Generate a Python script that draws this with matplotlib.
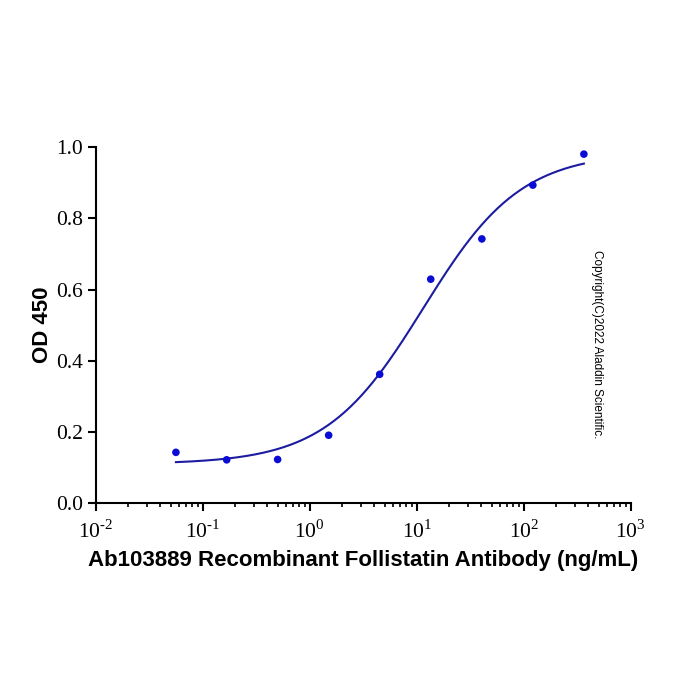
import numpy as np
import matplotlib
matplotlib.use("Agg")
import matplotlib.pyplot as plt
from matplotlib.ticker import LogLocator, NullFormatter, FuncFormatter

# antibody concentration (ng/mL) and measured OD450
conc = [0.056, 0.167, 0.5, 1.5, 4.5, 13.5, 40.6, 121.7, 365.0]
od450 = [0.143, 0.122, 0.123, 0.191, 0.362, 0.629, 0.742, 0.893, 0.980]

# four-parameter logistic fit
fit_bottom = 0.11
fit_top = 0.985
fit_ec50 = 11.5
fit_hill = 0.95

plt.rcParams['font.family'] = ['Liberation Serif']
plt.rcParams['mathtext.fontset'] = 'custom'
plt.rcParams['mathtext.rm'] = 'Liberation Serif'
plt.rcParams['axes.unicode_minus'] = False

fig = plt.figure(figsize=(7, 7), dpi=100)
ax = fig.add_axes([0.137, 0.281, 0.764, 0.509])

xs = np.logspace(np.log10(conc[0]), np.log10(conc[-1]), 300)
ys = fit_bottom + (fit_top - fit_bottom) / (1 + (fit_ec50 / xs) ** fit_hill)
ax.plot(xs, ys, color='#1c1ca0', lw=1.5, zorder=2)
ax.scatter(conc, od450, s=30, color='#0b0bd6', zorder=3, edgecolors='none')

ax.set_xscale('log')
ax.set_xlim(1e-2, 1e3)
ax.set_ylim(0, 1.0)
ax.set_yticks([0, 0.2, 0.4, 0.6, 0.8, 1.0])
ax.set_yticklabels(['0.0', '0.2', '0.4', '0.6', '0.8', '1.0'])
ax.xaxis.set_major_locator(LogLocator(base=10, numticks=10))
ax.xaxis.set_major_formatter(FuncFormatter(
    lambda v, p: r'$\mathrm{10}^{\text{%d}}$' % round(np.log10(v))))
ax.xaxis.set_minor_locator(LogLocator(base=10, subs=np.arange(2, 10), numticks=20))
ax.xaxis.set_minor_formatter(NullFormatter())

for s in ['top', 'right']:
    ax.spines[s].set_visible(False)
for s in ['left', 'bottom']:
    ax.spines[s].set_linewidth(1.5)
ax.tick_params(which='major', direction='out', length=6, width=1.5, labelsize=15.5)
ax.tick_params(axis='x', which='major', pad=6)
ax.tick_params(which='minor', direction='out', length=3, width=1.2)

ax.set_xlabel('Ab103889 Recombinant Follistatin Antibody (ng/mL)',
              family='Liberation Sans', fontweight='bold', fontsize=16, labelpad=5)
ax.set_ylabel('OD 450', family='Liberation Sans', fontweight='bold', fontsize=16, labelpad=2)

fig.text(0.853, 0.508, 'Copyright(C)2022 Aladdin Scientific.', rotation=-90,
         family='Liberation Sans', fontsize=8.5, ha='center', va='center')

fig.savefig('out.png', dpi=100)
